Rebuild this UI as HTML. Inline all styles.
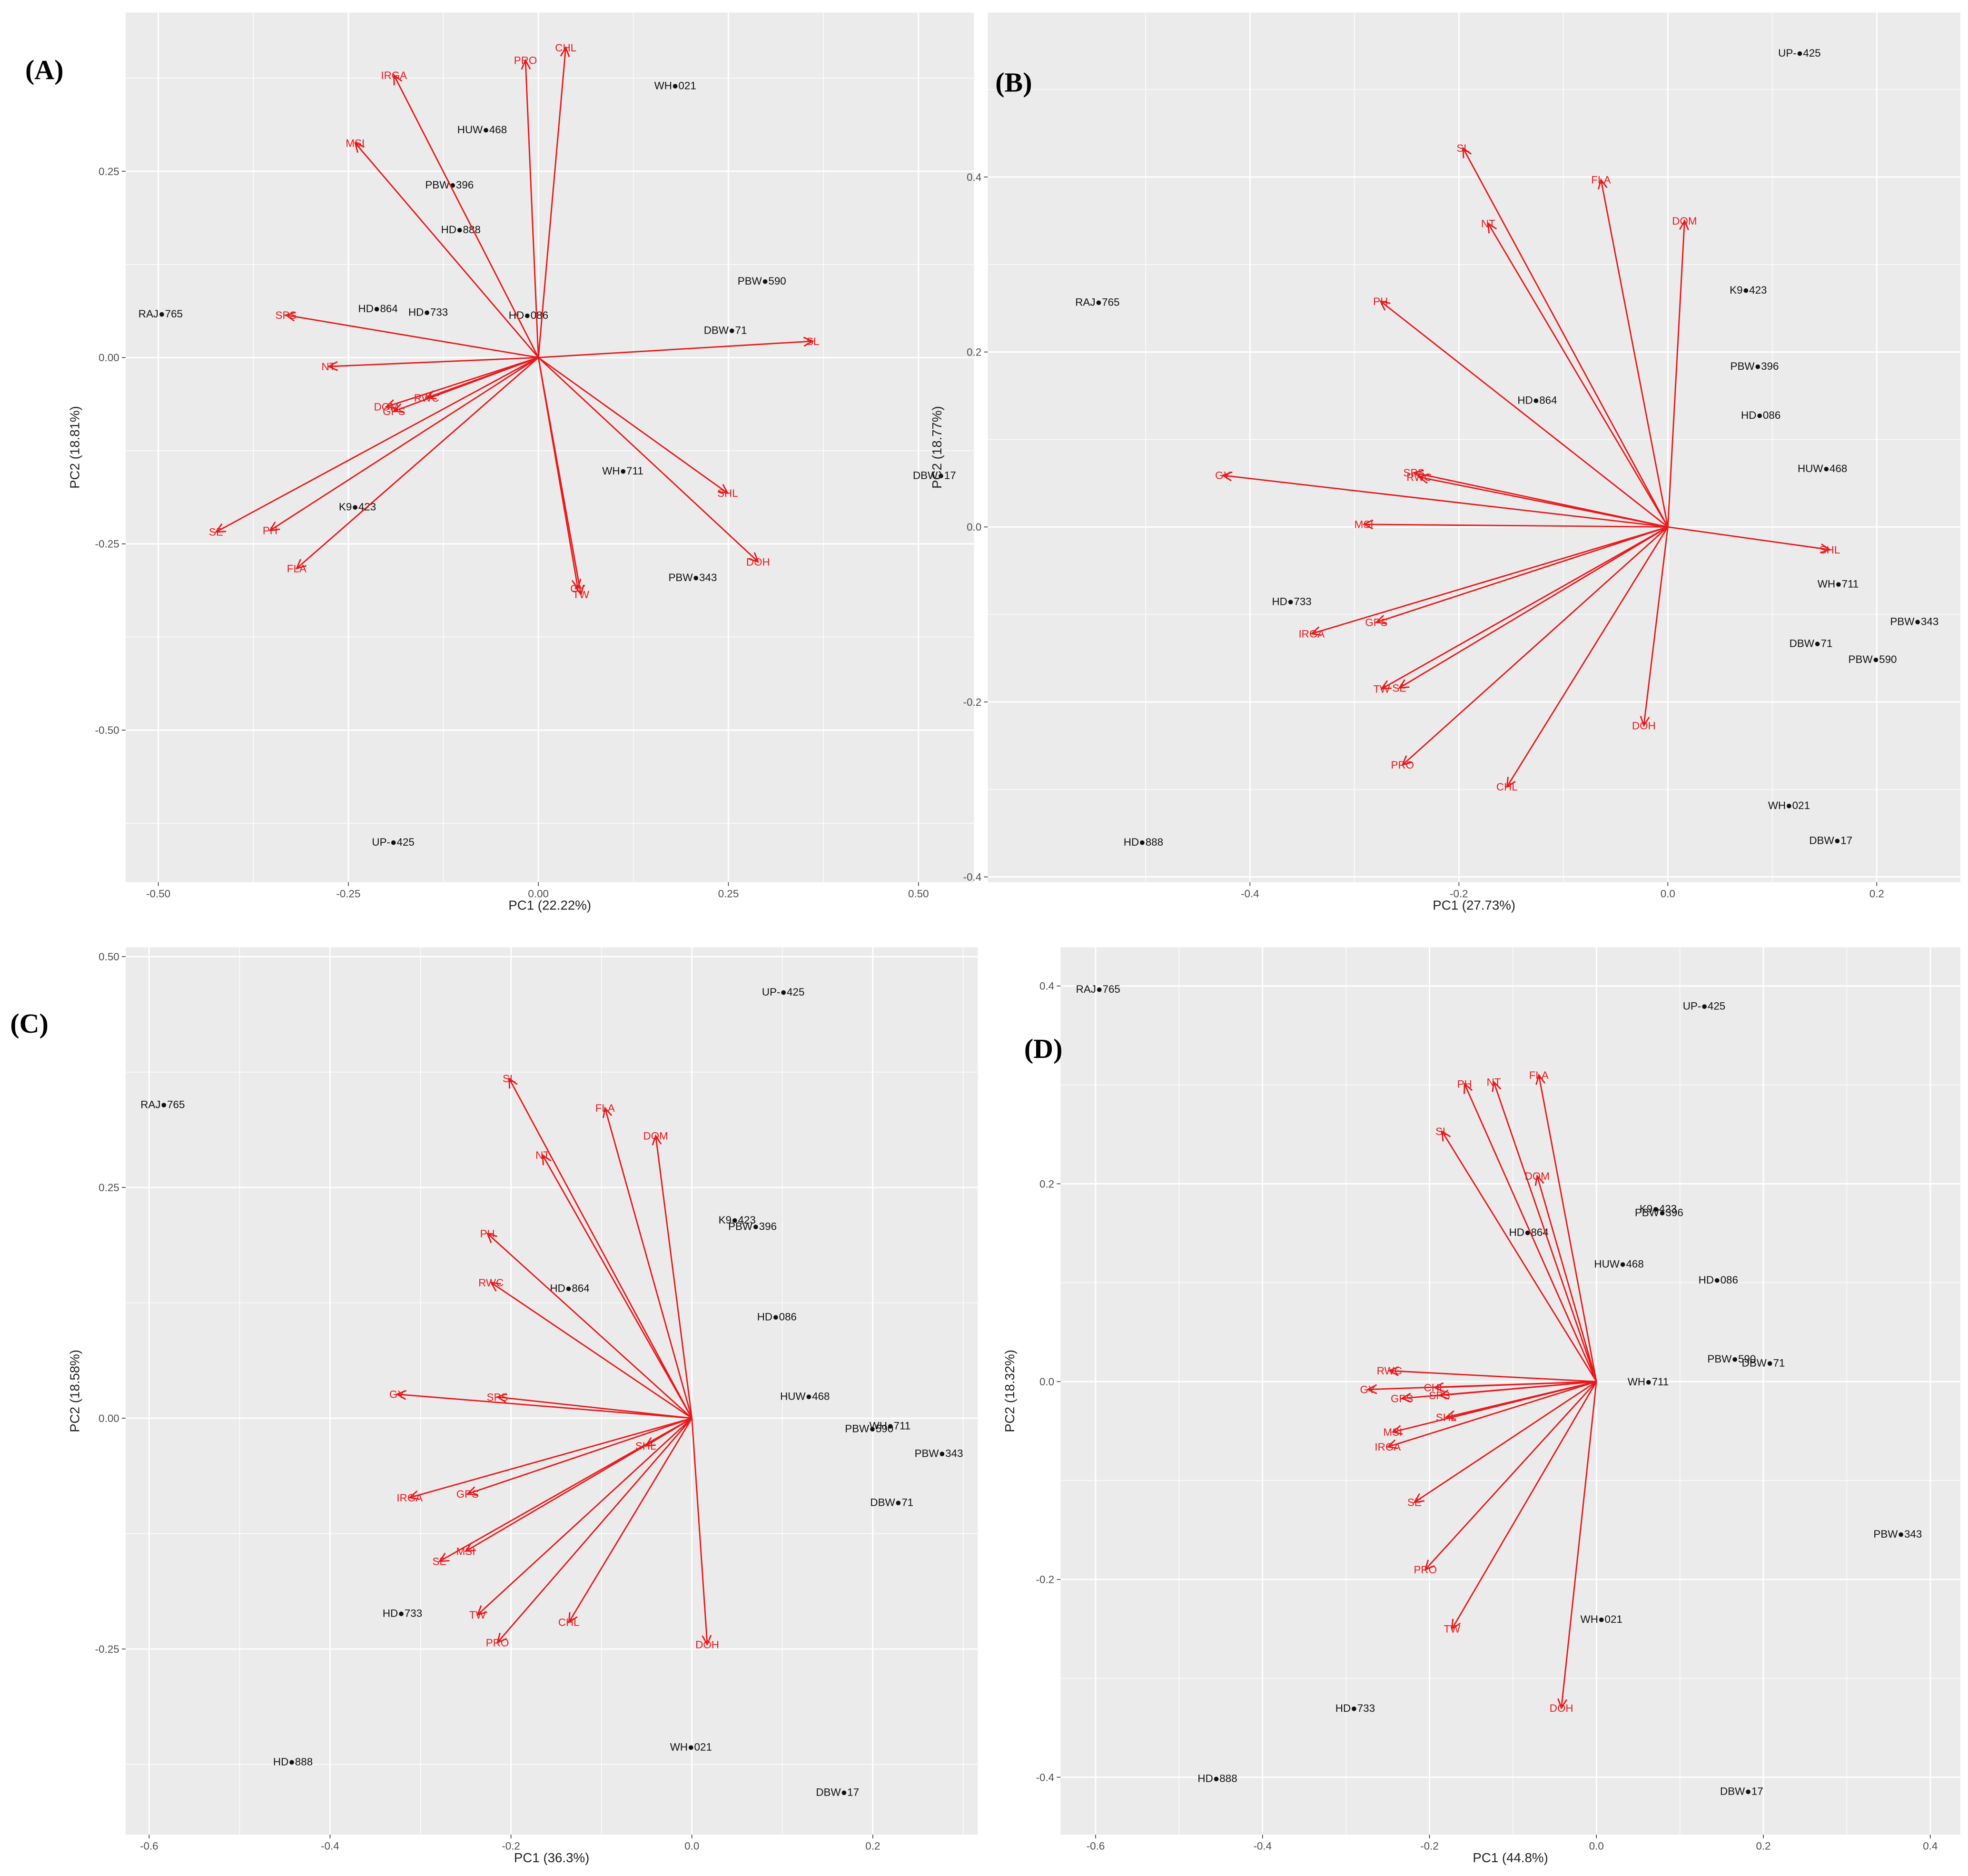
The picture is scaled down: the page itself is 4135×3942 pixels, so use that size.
<!DOCTYPE html>
<html><head><meta charset="utf-8"><style>
html,body{margin:0;padding:0;background:#fff;}
svg{display:block;}
text{font-family:"Liberation Sans",sans-serif;}
</style></head><body>
<svg id="fig" width="4135" height="3942" viewBox="0 0 1568 1495" xmlns="http://www.w3.org/2000/svg"></svg>
<script>
// ---- Panel A data ----
const genoNames = ["WH021","HUW468","PBW396","HD2888","PBW590","HD2864","HD2733","HD3086","DBW71","RAJ765","WH711","DBW17","K9423","PBW343","UP2425"];
const genoLabels = ["WH●021","HUW●468","PBW●396","HD●888","PBW●590","HD●864","HD●733","HD●086","DBW●71","RAJ●765","WH●711","DBW●17","K9●423","PBW●343","UP-●425"];
const aGenoPC1 = [0.180,-0.074,-0.117,-0.102,0.294,-0.211,-0.145,-0.013,0.246,-0.497,0.111,0.521,-0.238,0.203,-0.191];
const aGenoPC2 = [0.365,0.306,0.232,0.172,0.103,0.066,0.061,0.057,0.037,0.059,-0.152,-0.158,-0.200,-0.295,-0.650];
const aTraits = ["PRO","CHL","IRGA","MSI","SPS","NT","RWC","DOM","GPS","SL","SHL","DOH","GY","TW","SE","PH","FLA"];
const aTraitPC1 = [-0.017,0.036,-0.190,-0.241,-0.332,-0.276,-0.147,-0.200,-0.190,0.361,0.249,0.289,0.052,0.056,-0.424,-0.353,-0.318];
const aTraitPC2 = [0.399,0.416,0.379,0.288,0.057,-0.012,-0.054,-0.066,-0.072,0.022,-0.182,-0.274,-0.310,-0.318,-0.234,-0.232,-0.283];
// ---- Panel B data ----
const bGenoPC1 = [0.116,0.148,0.083,-0.502,0.196,-0.125,-0.360,0.089,0.137,-0.546,0.163,0.156,0.077,0.236,0.126];
const bGenoPC2 = [-0.318,0.067,0.184,-0.360,-0.151,0.145,-0.085,0.128,-0.133,0.257,-0.065,-0.358,0.271,-0.108,0.542];
const bTraits = ["SL","FLA","DOM","NT","PH","GY","SPS","RWC","MSI","SHL","GPS","IRGA","TW","SE","DOH","PRO","CHL"];
const bTraitPC1 = [-0.196,-0.064,0.016,-0.172,-0.275,-0.426,-0.243,-0.238,-0.291,0.155,-0.279,-0.341,-0.274,-0.257,-0.023,-0.254,-0.154];
const bTraitPC2 = [0.433,0.397,0.350,0.347,0.258,0.059,0.062,0.057,0.003,-0.026,-0.109,-0.122,-0.185,-0.184,-0.227,-0.272,-0.297];
// ---- Panel C data ----
const cGenoPC1 = [-0.001,0.125,0.067,-0.441,0.196,-0.135,-0.320,0.094,0.221,-0.585,0.219,0.161,0.050,0.273,0.101];
const cGenoPC2 = [-0.356,0.024,0.208,-0.372,-0.011,0.141,-0.211,0.110,-0.091,0.340,-0.008,-0.405,0.215,-0.038,0.462];
const cTraits = ["SL","FLA","DOM","NT","PH","RWC","GY","SPS","SHL","IRGA","GPS","MSI","SE","TW","CHL","PRO","DOH"];
const cTraitPC1 = [-0.202,-0.096,-0.040,-0.165,-0.226,-0.222,-0.326,-0.215,-0.051,-0.312,-0.248,-0.250,-0.279,-0.237,-0.136,-0.215,0.017];
const cTraitPC2 = [0.368,0.336,0.306,0.285,0.200,0.147,0.026,0.023,-0.030,-0.086,-0.082,-0.144,-0.155,-0.213,-0.221,-0.243,-0.245];
// ---- Panel D data ----
const dGenoPC1 = [0.006,0.027,0.075,-0.454,0.162,-0.081,-0.289,0.146,0.200,-0.597,0.062,0.174,0.074,0.361,0.129];
const dGenoPC2 = [-0.240,0.119,0.171,-0.401,0.023,0.151,-0.330,0.103,0.019,0.397,0.000,-0.414,0.175,-0.154,0.380];
const dTraits = ["FLA","PH","NT","SL","DOM","RWC","CHL","GY","GPS","SPS","SHL","MSI","IRGA","SE","PRO","TW","DOH"];
const dTraitPC1 = [-0.069,-0.158,-0.123,-0.185,-0.071,-0.248,-0.194,-0.274,-0.233,-0.188,-0.180,-0.244,-0.250,-0.218,-0.205,-0.173,-0.042];
const dTraitPC2 = [0.310,0.301,0.303,0.253,0.208,0.011,-0.006,-0.008,-0.017,-0.014,-0.036,-0.051,-0.066,-0.122,-0.190,-0.250,-0.330];
// ---- tick labels ----
const aXTicks = [-0.50,-0.25,0.00,0.25,0.50];
const aYTicks = [-0.50,-0.25,0.00,0.25];
const bXTicks = [-0.4,-0.2,0.0,0.2];
const bYTicks = [-0.4,-0.2,0.0,0.2,0.4];
const cXTicks = [-0.6,-0.4,-0.2,0.0,0.2];
const cYTicks = [-0.25,0.00,0.25,0.50];
const dXTicks = [-0.6,-0.4,-0.2,0.0,0.2,0.4];
const dYTicks = [-0.4,-0.2,0.0,0.2,0.4];

const NS="http://www.w3.org/2000/svg";
const svg=document.getElementById('fig');
function mk(tag,attrs,parent){const e=document.createElementNS(NS,tag);for(const k in attrs)e.setAttribute(k,attrs[k]);(parent||svg).appendChild(e);return e;}

const panels=[
 {id:'a',tag:'(A)',tx:20,ty:63,rect:[100,10,776,703],xd:[-0.543,0.573],yd:[0.463,-0.704],xt:aXTicks,yt:aYTicks,xdec:2,ydec:2,gx:aGenoPC1,gy:aGenoPC2,tn:aTraits,t1:aTraitPC1,t2:aTraitPC2,xl:'PC1 (22.22%)',yl:'PC2 (18.81%)'},
 {id:'b',tag:'(B)',tx:793,ty:73,rect:[787,10,1562,703],xd:[-0.651,0.280],yd:[0.588,-0.406],xt:bXTicks,yt:bYTicks,xdec:1,ydec:1,gx:bGenoPC1,gy:bGenoPC2,tn:bTraits,t1:bTraitPC1,t2:bTraitPC2,xl:'PC1 (27.73%)',yl:'PC2 (18.77%)'},
 {id:'c',tag:'(C)',tx:8,ty:823,rect:[100,755,779,1462],xd:[-0.626,0.316],yd:[0.510,-0.451],xt:cXTicks,yt:cYTicks,xdec:1,ydec:2,gx:cGenoPC1,gy:cGenoPC2,tn:cTraits,t1:cTraitPC1,t2:cTraitPC2,xl:'PC1 (36.3%)',yl:'PC2 (18.58%)'},
 {id:'d',tag:'(D)',tx:816,ty:843,rect:[845,755,1562,1462],xd:[-0.642,0.436],yd:[0.439,-0.458],xt:dXTicks,yt:dYTicks,xdec:1,ydec:1,gx:dGenoPC1,gy:dGenoPC2,tn:dTraits,t1:dTraitPC1,t2:dTraitPC2,xl:'PC1 (44.8%)',yl:'PC2 (18.32%)'}
];

panels.forEach(p=>{
 const [x0,y0,x1,y1]=p.rect;
 const sx=v=>x0+(v-p.xd[0])/(p.xd[1]-p.xd[0])*(x1-x0);
 const sy=v=>y0+(v-p.yd[0])/(p.yd[1]-p.yd[0])*(y1-y0);
 const g=mk('g',{});
 
 
 const bg=mk('rect',{x:x0,y:y0,width:x1-x0,height:y1-y0,fill:'#ebebeb'},g);
 
 
 const xs=p.xt, ys=p.yt, dx=xs[1]-xs[0], dy=ys[1]-ys[0];
 for(let v=xs[0]-dx/2; v<=p.xd[1]+1e-9; v+=dx/2){
  if(v<p.xd[0])continue;
  const major=xs.some(t=>Math.abs(t-v)<1e-6);
  const l=mk('line',{x1:sx(v),x2:sx(v),y1:y0,y2:y1,stroke:'#fff','stroke-width':major?1.1:0.5},g);
  
  
 }
 for(let v=ys[0]-dy/2; v<=p.yd[0]+1e-9; v+=dy/2){
  if(v<p.yd[1])continue;
  const major=ys.some(t=>Math.abs(t-v)<1e-6);
  const l=mk('line',{y1:sy(v),y2:sy(v),x1:x0,x2:x1,stroke:'#fff','stroke-width':major?1.1:0.5},g);
  
  
 }
 xs.forEach(v=>{
  mk('line',{x1:sx(v),x2:sx(v),y1:y1,y2:y1+3,stroke:'#333','stroke-width':0.6},g);
  const t=mk('text',{x:sx(v),y:y1+12,'text-anchor':'middle','font-size':8.5,fill:'#4d4d4d'},g);
  t.textContent=v.toFixed(p.xdec);
  
  
 });
 ys.forEach(v=>{
  mk('line',{x1:x0-3,x2:x0,y1:sy(v),y2:sy(v),stroke:'#333','stroke-width':0.6},g);
  const t=mk('text',{x:x0-5,y:sy(v)+3,'text-anchor':'end','font-size':8.5,fill:'#4d4d4d'},g);
  t.textContent=v.toFixed(p.ydec);
  
  
 });
 const xl=mk('text',{x:(x0+x1)/2,y:y1+22,'text-anchor':'middle','font-size':10.5,fill:'#222'},g);
 xl.textContent=p.xl;
 
 
 const yx=x0-37, yy=(y0+y1)/2;
 const yl=mk('text',{x:yx,y:yy,'text-anchor':'middle','font-size':10.5,fill:'#222',transform:`rotate(-90 ${yx} ${yy})`},g);
 yl.textContent=p.yl;
 
 
 const pl=mk('text',{x:p.tx,y:p.ty,'font-size':22,'font-weight':'bold',fill:'#000',style:'font-family:"Liberation Serif",serif'},g);
 pl.textContent=p.tag;
 
 
 genoNames.forEach((n,i)=>{
  const cx=sx(p.gx[i]), cy=sy(p.gy[i]);
  const t=mk('text',{x:cx,y:cy+3,'text-anchor':'middle','font-size':8.5,fill:'#111'},g);
  t.textContent=genoLabels[i];
  
  
 });
 const ox=sx(0), oy=sy(0);
 p.tn.forEach((n,i)=>{
  const tx=sx(p.t1[i]), ty=sy(p.t2[i]);
  const ag=mk('g',{},g);
  
  
  mk('line',{x1:ox,y1:oy,x2:tx,y2:ty,stroke:'#e8191c','stroke-width':1.1},ag);
  const ang=Math.atan2(ty-oy,tx-ox), L=8, w=0.45;
  const p1=[tx-L*Math.cos(ang-w),ty-L*Math.sin(ang-w)], p2=[tx-L*Math.cos(ang+w),ty-L*Math.sin(ang+w)];
  mk('polyline',{points:`${p1} ${tx},${ty} ${p2}`,fill:'none',stroke:'#e8191c','stroke-width':1.1},ag);
  const t=mk('text',{x:tx,y:ty+3,'text-anchor':'middle','font-size':8.5,fill:'#e8191c'},ag);
  t.textContent=n;
  
  
 });
});
</script>
</body></html>
